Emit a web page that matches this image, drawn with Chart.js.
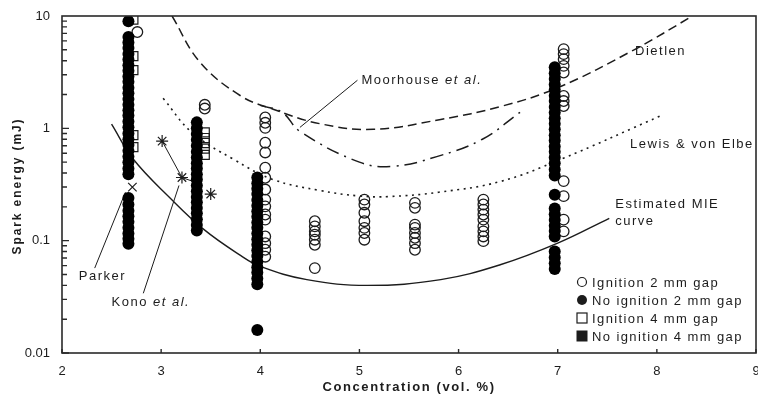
<!DOCTYPE html>
<html>
<head>
<meta charset="utf-8">
<script src="https://cdn.jsdelivr.net/npm/chart.js@4/dist/chart.umd.min.js"></script>
<style>
  html, body { margin: 0; background: #fff; }
  canvas { display: block; }
</style>
</head>
<body>
<canvas id="mie" width="758" height="396"></canvas>
<script>
// Spark ignition data: [concentration (vol. %), [spark energies (mJ)]]
const ignition2mm = [
  [2.76, [7.2]],
  [3.44, [1.62, 1.5]],
  [4.05, [1.25, 1.12, 1.01, 0.745, 0.61, 0.446, 0.363, 0.285, 0.232, 0.202, 0.171, 0.154, 0.109, 0.095, 0.083, 0.072]],
  [4.55, [0.149, 0.134, 0.121, 0.113, 0.102, 0.092, 0.057]],
  [5.05, [0.232, 0.21, 0.177, 0.149, 0.13, 0.117, 0.102]],
  [5.56, [0.217, 0.196, 0.139, 0.13, 0.117, 0.106, 0.095, 0.083]],
  [6.25, [0.232, 0.21, 0.189, 0.171, 0.154, 0.134, 0.121, 0.109, 0.099]],
  [7.06, [5.07, 4.58, 4.13, 3.6, 3.14, 1.94, 1.75, 1.58, 0.339, 0.249, 0.154, 0.121]]
];
const noIgnition2mm = [
  [2.67, [9.0, 6.5, 5.8, 5.2, 4.6, 4.1, 3.65, 3.25, 2.9, 2.6, 2.3, 2.05, 1.82, 1.62, 1.45, 1.3, 1.15, 1.02, 0.9, 0.8, 0.71, 0.63, 0.56, 0.5, 0.44, 0.39, 0.24, 0.21, 0.185, 0.165, 0.147, 0.13, 0.116, 0.104, 0.094]],
  [3.36, [1.13, 1.0, 0.89, 0.79, 0.7, 0.62, 0.55, 0.49, 0.44, 0.39, 0.35, 0.31, 0.275, 0.245, 0.22, 0.195, 0.175, 0.155, 0.138, 0.123]],
  [3.97, [0.365, 0.325, 0.29, 0.26, 0.23, 0.205, 0.183, 0.163, 0.145, 0.13, 0.116, 0.103, 0.092, 0.082, 0.073, 0.065, 0.058, 0.052, 0.046, 0.041, 0.016]],
  [6.97, [3.5, 3.1, 2.75, 2.45, 2.2, 1.95, 1.75, 1.55, 1.38, 1.23, 1.1, 0.98, 0.87, 0.78, 0.69, 0.62, 0.55, 0.49, 0.43, 0.38, 0.256, 0.193, 0.172, 0.153, 0.136, 0.122, 0.109, 0.08, 0.071, 0.063, 0.056]]
];
const ignition4mm = [
  [2.72, [9.3, 4.4, 3.3, 0.87, 0.68]],
  [3.44, [0.92, 0.82, 0.74, 0.66, 0.58]]
];
const noIgnition4mm = [
  [2.67, [3.0, 0.6]],
  [3.36, [0.45]],
  [3.97, [0.2]]
];

// Literature values
const parkerX = [2.71];
const parkerY = [0.30];
const konoX = [3.01, 3.21, 3.5];
const konoY = [0.77, 0.365, 0.26];
const konoLineX = [3.01, 3.21, 3.35];
const konoLineY = [0.77, 0.365, 0.33];

// Curves
const mieX = [2.5, 2.72, 3.09, 3.43, 3.8, 4.0, 4.47, 5.08, 5.82, 6.42, 7.0, 7.52];
const mieY = [1.09, 0.53, 0.24, 0.126, 0.074, 0.059, 0.045, 0.04, 0.045, 0.061, 0.095, 0.158];
const dietlenX = [3.11, 3.39, 3.8, 4.13, 4.6, 5.14, 5.82, 6.43, 7.0, 7.77, 8.36];
const dietlenY = [10, 3.9, 1.95, 1.48, 1.1, 0.98, 1.2, 1.57, 2.3, 5.0, 10];
const moorhouseX = [4.0, 4.22, 4.4, 5.0, 5.34, 5.78, 6.24, 6.62];
const moorhouseY = [1.6, 1.39, 0.94, 0.5, 0.46, 0.56, 0.8, 1.39];
const lewisX = [3.02, 3.31, 3.73, 4.13, 4.6, 5.0, 5.3, 5.8, 6.42, 7.03, 8.07];
const lewisY = [1.85, 0.92, 0.53, 0.35, 0.28, 0.25, 0.247, 0.27, 0.336, 0.53, 1.33];

// Leader lines from the labels to the curves they name
const parkerLeadX = [2.33, 2.64];
const parkerLeadY = [0.057, 0.27];
const konoLeadX = [2.82, 3.18];
const konoLeadY = [0.034, 0.31];
const moorLeadX = [4.98, 4.40];
const moorLeadY = [2.68, 1.02];

const xTicks = [2, 3, 4, 5, 6, 7, 8, 9];
const yTicks = [0.01, 0.1, 1, 10];

const legendNames = ['Ignition 2 mm gap', 'No ignition 2 mm gap', 'Ignition 4 mm gap', 'No ignition 4 mm gap'];

const cols = list => list.flatMap(([x, ys]) => ys.map(y => ({ x, y })));
const pair = (xs, ys) => xs.map((x, i) => ({ x, y: ys[i] }));

const INK = '#1c1c1c';
const FONT = '"Liberation Sans", Arial, sans-serif';

function curve(data, dash, width) {
  return {
    type: 'line', data, showLine: true, tension: 0.4, pointRadius: 0,
    borderColor: INK, borderWidth: width, borderDash: dash, fill: false, order: 20
  };
}
function leader(data) {
  return {
    type: 'line', data, showLine: true, tension: 0, pointRadius: 0,
    borderColor: INK, borderWidth: 1, fill: false, order: 21
  };
}

// Labels, frame, ticks and legend drawn over the plot
const decor = {
  id: 'decor',
  afterDraw(chart) {
    const { ctx, chartArea: a, scales: { x, y } } = chart;
    ctx.save();

    // frame
    ctx.strokeStyle = '#2a2a2a';
    ctx.lineWidth = 1.6;
    ctx.strokeRect(a.left, a.top, a.right - a.left, a.bottom - a.top);

    // x ticks (inside)
    ctx.lineWidth = 1.4;
    ctx.beginPath();
    xTicks.forEach(v => {
      const px = x.getPixelForValue(v);
      ctx.moveTo(px, a.bottom);
      ctx.lineTo(px, a.bottom - 4);
    });
    // y log ticks (inside)
    [0.01, 0.1, 1].forEach(d => {
      for (let m = 1; m <= 9; m++) {
        const py = y.getPixelForValue(d * m);
        ctx.moveTo(a.left, py);
        ctx.lineTo(a.left + (m === 1 ? 7 : 5), py);
      }
    });
    ctx.stroke();

    // curve names
    ctx.fillStyle = INK;
    ctx.font = '13px ' + FONT;
    ctx.letterSpacing = '1.5px';
    ctx.textBaseline = 'middle';
    ctx.textAlign = 'left';
    const put = (t, vx, vy) => ctx.fillText(t, x.getPixelForValue(vx), y.getPixelForValue(vy));
    put('Parker', 2.17, 0.048);
    put('Dietlen', 7.78, 4.87);
    put('Lewis & von Elbe', 7.73, 0.72);
    put('Estimated MIE', 7.58, 0.209);
    put('curve', 7.58, 0.148);
    const ital = (a1, a2, vx, vy) => {
      let px = x.getPixelForValue(vx);
      const py = y.getPixelForValue(vy);
      ctx.font = '13px ' + FONT;
      ctx.fillText(a1, px, py);
      px += ctx.measureText(a1).width;
      ctx.font = 'italic 13px ' + FONT;
      ctx.fillText(a2, px, py);
    };
    ital('Kono ', 'et al.', 2.5, 0.028);
    ital('Moorhouse ', 'et al.', 5.02, 2.68);

    // legend
    ctx.font = '13px ' + FONT;
    ctx.letterSpacing = '1.4px';
    const lx = a.right - 174, ly0 = a.bottom - 71, step = 18;
    legendNames.forEach((name, i) => {
      const cy = ly0 + i * step;
      ctx.beginPath();
      ctx.lineWidth = 1.2;
      ctx.strokeStyle = INK;
      ctx.fillStyle = INK;
      if (i === 0) { ctx.arc(lx, cy, 4.5, 0, Math.PI * 2); ctx.stroke(); }
      if (i === 1) { ctx.arc(lx, cy, 5, 0, Math.PI * 2); ctx.fill(); }
      if (i === 2) { ctx.strokeRect(lx - 5, cy - 5, 10, 10); }
      if (i === 3) { ctx.fillRect(lx - 5.5, cy - 5.5, 11, 11); }
      ctx.fillText(name, lx + 10, cy + 1);
    });

    // axis titles
    ctx.font = 'bold 13px ' + FONT;
    ctx.letterSpacing = '1.6px';
    ctx.textAlign = 'center';
    ctx.fillText('Concentration (vol. %)', (a.left + a.right) / 2, 387);
    ctx.save();
    ctx.translate(18, 186);
    ctx.rotate(-Math.PI / 2);
    ctx.font = 'bold 12px ' + FONT;
    ctx.letterSpacing = '1.9px';
    ctx.fillText('Spark energy (mJ)', 0, 0);
    ctx.restore();

    ctx.restore();
  }
};

new Chart(document.getElementById('mie'), {
  type: 'scatter',
  data: {
    datasets: [
      { label: 'Parker', data: pair(parkerX, parkerY), pointStyle: 'crossRot', pointRadius: 6,
        borderColor: INK, borderWidth: 1.2, backgroundColor: INK, order: 0 },
      { label: 'Kono et al.', data: pair(konoX, konoY), pointStyle: 'star', pointRadius: 6,
        borderColor: INK, borderWidth: 1.2, backgroundColor: INK, order: 0 },
      { label: legendNames[1], data: cols(noIgnition2mm), pointStyle: 'circle', pointRadius: 6,
        backgroundColor: '#000', borderColor: '#000', borderWidth: 0, order: 1 },
      { label: legendNames[3], data: cols(noIgnition4mm), pointStyle: 'rect', pointRadius: 6.5,
        backgroundColor: '#000', borderColor: '#000', borderWidth: 0, order: 2 },
      { label: legendNames[0], data: cols(ignition2mm), pointStyle: 'circle', pointRadius: 5.3,
        backgroundColor: 'rgba(0,0,0,0)', borderColor: INK, borderWidth: 1.3, order: 3 },
      { label: legendNames[2], data: cols(ignition4mm), pointStyle: 'rect', pointRadius: 6.4,
        backgroundColor: 'rgba(0,0,0,0)', borderColor: INK, borderWidth: 1.2, order: 4 },
      Object.assign(curve(pair(konoLineX, konoLineY), [], 1), { tension: 0 }),
      curve(pair(mieX, mieY), [], 1.4),
      curve(pair(dietlenX, dietlenY), [9, 5], 1.5),
      curve(pair(moorhouseX, moorhouseY), [13, 6, 2, 6], 1.5),
      curve(pair(lewisX, lewisY), [2, 4.5], 1.6),
      leader(pair(parkerLeadX, parkerLeadY)),
      leader(pair(konoLeadX, konoLeadY)),
      leader(pair(moorLeadX, moorLeadY))
    ]
  },
  options: {
    responsive: false,
    animation: false,
    events: [],
    layout: { padding: { top: 16, right: 2, left: 0, bottom: 0 }, autoPadding: false },
    plugins: { legend: { display: false }, tooltip: { enabled: false } },
    scales: {
      x: {
        type: 'linear', min: 2, max: 9,
        afterBuildTicks: s => { s.ticks = xTicks.map(v => ({ value: v })); },
        afterFit: s => { s.height = 43; s.paddingLeft = 0; s.paddingRight = 0; },
        grid: { display: false, drawTicks: false },
        border: { display: false },
        ticks: { color: INK, padding: 11, font: { family: FONT, size: 13 } }
      },
      y: {
        type: 'logarithmic', min: 0.01, max: 10,
        afterBuildTicks: s => { s.ticks = yTicks.map(v => ({ value: v })); },
        afterFit: s => { s.width = 62; s.paddingTop = 0; s.paddingBottom = 0; },
        grid: { display: false, drawTicks: false },
        border: { display: false },
        ticks: { color: INK, padding: 12, font: { family: FONT, size: 13 },
                 callback: v => String(v) }
      }
    }
  },
  plugins: [decor]
});
</script>
</body>
</html>
